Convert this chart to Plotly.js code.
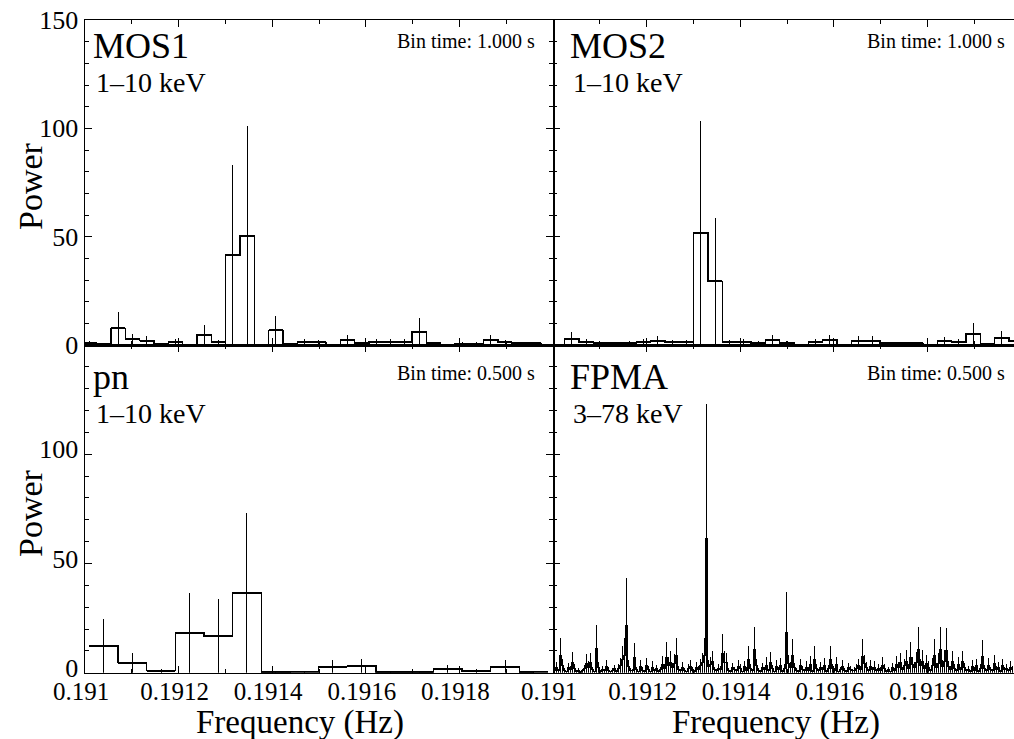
<!DOCTYPE html>
<html>
<head>
<meta charset="utf-8">
<script src="https://cdn.plot.ly/plotly-3.0.1.min.js"></script>
<style>
  html, body { margin: 0; padding: 0; background: #fff; overflow: hidden; }
  #chart { width: 1014px; height: 739px; }
  #chart .scatterlayer path { shape-rendering: crispEdges; }
</style>
</head>
<body>
<div id="chart"></div>
<script>
// ---------------- DATA ----------------
// MOS1 / MOS2 share a frequency grid (bin centres, Hz)
const mosFreq = [0.1910096, 0.1910402, 0.1910708, 0.1911015, 0.1911321, 0.1911627, 0.1911933,
  0.1912239, 0.1912546, 0.1912852, 0.1913158, 0.1913464, 0.1913770, 0.1914077, 0.1914383,
  0.1914689, 0.1914995, 0.1915301, 0.1915608, 0.1915914, 0.1916220, 0.1916526, 0.1916832,
  0.1917139, 0.1917445, 0.1917751, 0.1918057, 0.1918363, 0.1918670, 0.1918976, 0.1919282,
  0.1919588, 0.1919894];
const mos1Power = [1.0, 0.5, 7.7, 2.6, 2.0, 0.5, 1.5, 0.2, 4.6, 1.2, 41.5, 50.5, 0.2, 6.8, 0.4,
  1.5, 1.2, 0.2, 2.3, 0.8, 1.5, 1.5, 1.5, 6.2, 0.8, 0.2, 0.6, 0.6, 2.4, 1.2, 0.8, 0.8, 0.2];
const mos2Power = [0.2, 3.0, 1.5, 0.8, 0.8, 1.0, 1.5, 2.0, 1.2, 1.2, 51.8, 29.4, 1.2, 1.5, 1.0,
  2.3, 1.0, 0.2, 1.5, 2.3, 0.2, 2.0, 2.0, 0.8, 0.8, 0.8, 0.2, 1.8, 1.5, 5.1, 0.4, 3.3, 1.8];
const mosHalfBin = 1.531e-5;

const pnFreq = [0.1910398, 0.1911011, 0.1911624, 0.1912236, 0.1912849, 0.1913461, 0.1914074,
  0.1914686, 0.1915299, 0.1915912, 0.1916524, 0.1917137, 0.1917749, 0.1918362, 0.1918975,
  0.1919587];
const pnPower = [12.4, 4.6, 0.9, 18.3, 16.8, 36.6, 0.3, 0.5, 2.8, 3.2, 0.4, 0.4, 1.7, 0.8, 2.8, 0.3];
const pnHalfBin = 3.063e-5;

// FPMA: regular FFT grid, first bin centre and bin width (Hz)
const fpmaStart = 0.19100214;
const fpmaStep = 4.2735e-6;
const fpmaPower = [
  1.2, 2.5, 0.8, 8.0, 3.1, 1.0, 0.4, 2.2, 1.5, 4.8,
  2.0, 0.6, 1.1, 0.3, 0.9, 1.7, 4.3, 2.6, 4.5, 1.3,
  0.5, 11.0, 2.4, 0.7, 1.6, 0.9, 2.8, 1.2, 0.4, 1.0,
  1.8, 0.6, 2.1, 3.4, 6.0, 8.0, 21.7, 3.0, 1.1, 0.8,
  6.9, 1.4, 0.5, 2.9, 1.2, 0.7, 3.3, 1.5, 0.4, 2.6,
  0.9, 1.8, 0.6, 1.3, 3.8, 2.0, 7.1, 3.5, 4.9, 2.2,
  4.2, 7.9, 1.6, 0.8, 2.5, 1.0, 0.5, 1.9, 3.0, 1.2,
  0.7, 2.4, 1.5, 3.1, 4.5, 7.9, 61.5, 2.9, 3.6, 5.0,
  1.3, 0.9, 2.1, 1.6, 8.8, 4.9, 4.6, 1.1, 0.6, 2.3,
  1.4, 0.8, 3.0, 1.9, 0.5, 2.7, 1.2, 6.0, 2.0, 0.9,
  10.5, 3.2, 1.0, 0.6, 2.2, 1.4, 3.5, 0.8, 4.8, 1.7,
  0.5, 2.9, 1.3, 3.4, 0.7, 2.0, 18.5, 4.0, 2.5, 7.7,
  2.2, 1.1, 0.6, 3.1, 1.5, 0.9, 2.6, 1.2, 3.8, 0.7,
  6.0, 1.9, 0.8, 2.4, 1.3, 3.3, 0.6, 1.7, 6.0, 2.1,
  1.0, 3.6, 0.5, 1.4, 2.8, 1.1, 0.7, 2.3, 1.6, 0.9,
  1.2, 2.0, 3.2, 1.5, 7.6, 4.0, 2.4, 0.8, 3.0, 1.3,
  2.6, 0.9, 1.9, 1.2, 3.5, 2.1, 0.7, 1.4, 0.5, 2.2,
  1.0, 3.8, 2.5, 4.6, 1.4, 3.2, 5.1, 2.0, 7.1, 3.6,
  2.4, 4.8, 10.5, 3.1, 5.2, 1.8, 4.1, 2.6, 0.9, 3.4,
  7.8, 2.2, 4.4, 10.4, 3.0, 5.3, 10.2, 2.7, 1.5, 5.0,
  2.1, 0.8, 3.6, 1.4, 5.0, 2.3, 0.9, 1.6, 0.6, 2.8,
  1.2, 3.2, 0.7, 2.1, 7.5, 1.8, 0.9, 3.4, 1.3, 0.8,
  4.0, 1.6, 2.5, 0.7, 3.1, 1.4, 2.0, 0.9, 2.6, 1.5];

const xTickVals = [0.191, 0.1912, 0.1914, 0.1916, 0.1918];
const xTickText = ['0.191', '0.1912', '0.1914', '0.1916', '0.1918'];
const yTickValsTop = [0, 50, 100, 150];
const yTickValsBottom = [0, 50, 100];

const panelNames = ['MOS1', 'MOS2', 'pn', 'FPMA'];
const panelBands = ['1–10 keV', '1–10 keV', '1–10 keV', '3–78 keV'];
const panelBinTimes = ['Bin time: 1.000 s', 'Bin time: 1.000 s', 'Bin time: 0.500 s', 'Bin time: 0.500 s'];

// ---------------- STYLE ----------------
const FONT = 'Liberation Serif, Times New Roman, serif';
const W = 1014, H = 739;
const px = (x) => x / W;
const py = (y) => 1 - y / H;

function stepTrace(common, xa, ya, halfBin) {
  return Object.assign({
    type: 'scatter', mode: 'lines', xaxis: xa, yaxis: ya,
    line: { shape: 'hvh', color: '#000', width: 1.5 },
    error_x: { type: 'constant', value: halfBin, color: '#000', thickness: 2, width: 0 },
    hoverinfo: 'skip'
  }, common);
}

const traces = [
  stepTrace({ x: mosFreq, y: mos1Power,
    error_y: { type: 'data', array: mos1Power, symmetric: true, color: '#000', thickness: 1, width: 0 } }, 'x', 'y', mosHalfBin),
  stepTrace({ x: mosFreq, y: mos2Power,
    error_y: { type: 'data', array: mos2Power, symmetric: true, color: '#000', thickness: 1, width: 0 } }, 'x2', 'y2', mosHalfBin),
  stepTrace({ x: pnFreq, y: pnPower,
    error_y: { type: 'data', array: pnPower, symmetric: true, color: '#000', thickness: 1, width: 0 } }, 'x3', 'y3', pnHalfBin),
  stepTrace({ x0: fpmaStart, dx: fpmaStep, y: fpmaPower,
    error_y: { type: 'data', array: fpmaPower, symmetric: true, color: '#000', thickness: 1, width: 0 } }, 'x4', 'y4', fpmaStep / 2)
];
traces[3].line.width = 1.0;
traces[3].error_x.thickness = 1.0;

const xLeft = [px(85), px(553)];
const xRight = [px(553), 1];
const yTop = [py(345), py(20)];
const yBot = [py(672.7), py(345)];

function xaxis(domain, anchor, range, labels) {
  return {
    domain: domain, anchor: anchor, range: range,
    showline: true, linecolor: '#000', linewidth: 1.5, mirror: 'ticks',
    ticks: 'inside', ticklen: 7, tickwidth: 1.3, tickcolor: '#000',
    tickmode: 'array', tickvals: xTickVals, ticktext: xTickText,
    showticklabels: labels, ticklabelstandoff: -4, ticklabelshift: -4,
    tickfont: { family: FONT, size: 25, color: '#000' },
    minor: { tickmode: 'linear', tick0: 0.191, dtick: 0.0001, ticks: 'inside', ticklen: 4, tickwidth: 1, tickcolor: '#000' },
    showgrid: false, zeroline: false, fixedrange: true
  };
}
function yaxis(domain, anchor, vals, labels, mirror, line, shift) {
  return {
    domain: domain, anchor: anchor, range: [0, 150],
    showline: line, linecolor: '#000', linewidth: 1.5, mirror: mirror,
    ticks: 'inside', ticklen: 7, tickwidth: 1.3, tickcolor: '#000',
    tickmode: 'array', tickvals: vals, showticklabels: labels, ticklabelshift: shift,
    tickfont: { family: FONT, size: 26, color: '#000' },
    minor: { tickmode: 'linear', tick0: 0, dtick: 10, ticks: 'inside', ticklen: 4, tickwidth: 1, tickcolor: '#000' },
    showgrid: false, zeroline: false, fixedrange: true
  };
}

const annotations = [];
const panelPos = [
  { left: 91, right: 537, dy: 0 },
  { left: 568, right: 1007, dy: 0 },
  { left: 91, right: 537, dy: 331 },
  { left: 568, right: 1007, dy: 331 }
];
panelPos.forEach((p, i) => {
  annotations.push({ text: panelNames[i], xref: 'paper', yref: 'paper', x: px(p.left), y: py(46 + p.dy),
    xanchor: 'left', yanchor: 'middle', showarrow: false, font: { family: FONT, size: 36, color: '#000' } });
  annotations.push({ text: panelBands[i], xref: 'paper', yref: 'paper', x: px(p.left + 3), y: py(82.5 + p.dy),
    xanchor: 'left', yanchor: 'middle', showarrow: false, font: { family: FONT, size: 28, color: '#000' } });
  annotations.push({ text: panelBinTimes[i], xref: 'paper', yref: 'paper', x: px(p.right), y: py(41.5 + p.dy),
    xanchor: 'right', yanchor: 'middle', showarrow: false, font: { family: FONT, size: 20, color: '#000' } });
});
// axis titles
[300, 776].forEach(cx => annotations.push({ text: 'Frequency (Hz)', xref: 'paper', yref: 'paper',
  x: px(cx), y: py(722.5), xanchor: 'center', yanchor: 'middle', showarrow: false,
  font: { family: FONT, size: 33, color: '#000' } }));
[186, 513].forEach(cy => annotations.push({ text: 'Power', xref: 'paper', yref: 'paper',
  x: px(30), y: py(cy), xanchor: 'center', yanchor: 'middle', textangle: -90, showarrow: false,
  font: { family: FONT, size: 34, color: '#000' } }));

const xRangeLeft = [0.191, 0.192];
const xRangeRight = [0.191, 0.191985];

const layout = {
  width: W, height: H,
  margin: { l: 0, r: 0, t: 0, b: 0, pad: 0 },
  paper_bgcolor: '#fff', plot_bgcolor: 'rgba(0,0,0,0)',
  showlegend: false,
  xaxis: xaxis(xLeft, 'y', xRangeLeft, false),
  yaxis: yaxis(yTop, 'x', yTickValsTop, true, 'ticks', true, 0),
  xaxis2: xaxis(xRight, 'y2', xRangeRight, false),
  yaxis2: yaxis(yTop, 'x2', yTickValsTop, false, false, false, 0),
  xaxis3: xaxis(xLeft, 'y3', xRangeLeft, true),
  yaxis3: yaxis(yBot, 'x3', yTickValsBottom, true, 'ticks', true, -5),
  xaxis4: xaxis(xRight, 'y4', xRangeRight, true),
  yaxis4: yaxis(yBot, 'x4', yTickValsBottom, false, false, false, 0),
  annotations: annotations
};

Plotly.newPlot('chart', traces, layout, { staticPlot: true, displayModeBar: false });
</script>
</body>
</html>
